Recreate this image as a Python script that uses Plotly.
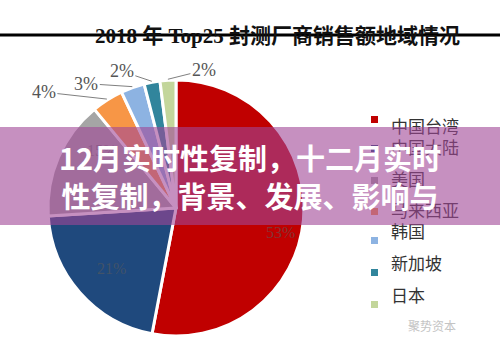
import math
import plotly.graph_objects as go

# ---------------- data ----------------
regions = ["中国台湾", "中国大陆", "美国", "马来西亚", "韩国", "新加坡", "日本"]
shares = [53, 21, 15, 4, 3, 2, 2]
colors = ["#c00000", "#1f497d", "#a5a5a5", "#f79646", "#8db3e2", "#31859c", "#c3d69b"]
title_text = "2018 年 Top25 封测厂商销售额地域情况"
banner_lines = ["12月实时性复制，十二月实时", "性复制，背景、发展、影响与"]
watermark = "聚势资本"

# ---------------- layout geometry (pixels) ----------------
W, H = 500, 353
CX, CY, R = 176, 208, 128
SERIF = "Liberation Serif, Noto Sans CJK SC, serif"
CJK = "Noto Sans CJK SC, sans-serif"

fig = go.Figure(go.Pie(
    labels=regions, values=shares, sort=False, direction="clockwise", rotation=0,
    marker=dict(colors=colors, line=dict(color="white", width=3)),
    textinfo="none", hoverinfo="label+percent", showlegend=False,
    domain=dict(x=[(CX - R) / W, (CX + R) / W], y=[(H - CY - R) / H, (H - CY + R) / H]),
))

total = sum(shares)
mids = []
cum = 0
for v in shares:
    mids.append((cum + v / 2) / total * 2 * math.pi)
    cum += v


def pt(theta, r):
    return (CX + r * math.sin(theta)) / W, (H - (CY - r * math.cos(theta))) / H


ann = []
# percentage labels: big slices inside, small ones outside with leader lines
outside_offsets = {3: (-63, -7), 4: (-46, -3), 5: (-30, -10), 6: (36, -9)}
inside_shift_deg = {0: 8, 1: 0, 2: 9}
for i, v in enumerate(shares):
    if i in outside_offsets:
        x, y = pt(mids[i], R + 1)
        ax, ay = outside_offsets[i]
        ann.append(dict(x=x, y=y, xref="paper", yref="paper", text=f"{v}%",
                        showarrow=True, arrowhead=0, arrowwidth=1, arrowcolor="#808080",
                        ax=ax, ay=ay, standoff=0,
                        font=dict(family=SERIF, size=18, color="#555555")))
    else:
        x, y = pt(mids[i] + math.radians(inside_shift_deg[i]), 0.84 * R)
        ann.append(dict(x=x, y=y, xref="paper", yref="paper", text=f"{v}%",
                        showarrow=False,
                        font=dict(family=SERIF, size=16, color="rgba(90,90,90,0.6)")))

# legend (drawn as text so that the banner can cover it)
for i, (name, c) in enumerate(zip(regions, colors)):
    ytop = 116 + 32 * i
    ann.append(dict(x=378 / W, y=(H - ytop) / H, xref="paper", yref="paper", text=" ",
                    showarrow=False, width=7, height=7, bgcolor=c, borderpad=0, borderwidth=0,
                    font=dict(size=4)))
    ann.append(dict(x=389 / W, y=(H - ytop) / H, xref="paper", yref="paper", text=name,
                    xanchor="left", showarrow=False,
                    font=dict(family=SERIF, size=17, color="#333333")))

# title
ann.append(dict(x=277 / W, y=(H - 22) / H, xref="paper", yref="paper",
                text="<b>" + title_text + "</b>",
                showarrow=False, font=dict(family=SERIF, size=21, color="#111111")))
# watermark
ann.append(dict(x=458 / W, y=(H - 336) / H, xref="paper", yref="paper", text=watermark,
                showarrow=False, font=dict(family=SERIF, size=12, color="#c4c4c4")))
# translucent banner with overlay text
ann.append(dict(x=0.5, y=(H - 176) / H, xref="paper", yref="paper",
                text="<b>" + "<br>".join(banner_lines) + "</b>",
                showarrow=False, width=W, height=98, bgcolor="rgba(160,70,150,0.6)",
                borderpad=0, borderwidth=0, align="center", valign="middle",
                font=dict(family=CJK, size=29, color="white")))

fig.update_layout(
    width=W, height=H, margin=dict(l=0, r=0, t=0, b=0),
    paper_bgcolor="white", plot_bgcolor="white",
    annotations=ann,
    shapes=[dict(type="line", xref="paper", yref="paper", x0=0, x1=1,
                 y0=(H - 35) / H, y1=(H - 35) / H, line=dict(color="black", width=3))],
)

fig.write_html("out.html")
